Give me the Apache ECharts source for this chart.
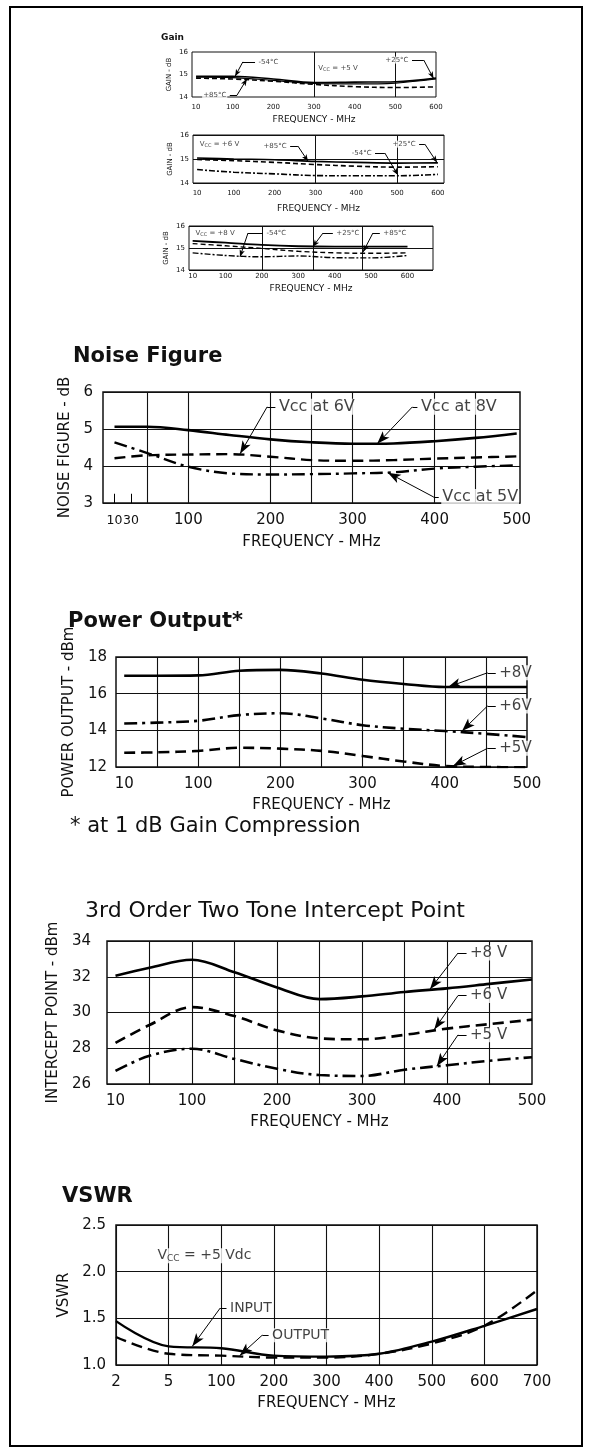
<!DOCTYPE html>
<html><head><meta charset="utf-8">
<script src="https://cdn.jsdelivr.net/npm/echarts@6/dist/echarts.min.js"></script>
<style>html,body{margin:0;padding:0;background:#fff}#c{width:589px;height:1452px}</style>
</head><body><div id="c"></div>
<script>
// ---------------- DATA ----------------
// Gain (three supply voltages)
const gainFreq = [10, 100, 200, 300, 400, 500, 600];
const gainTickLabels = [10, 100, 200, 300, 400, 500, 600];
const gain5V_m54 = [14.92, 14.92, 14.80, 14.64, 14.66, 14.68, 14.84];
const gain5V_p25 = [14.88, 14.86, 14.74, 14.60, 14.58, 14.62, 14.80];
const gain5V_p85 = [14.84, 14.80, 14.70, 14.56, 14.46, 14.42, 14.45];
const gain6V_p25 = [15.04, 15.00, 14.97, 14.90, 14.86, 14.83, 14.84];
const gain6V_m54 = [14.98, 14.93, 14.86, 14.77, 14.70, 14.66, 14.68];
const gain6V_p85 = [14.56, 14.45, 14.38, 14.31, 14.30, 14.30, 14.36];
const gain8V_m54 = [15.32, 15.24, 15.14, 15.08, 15.06, 15.06, 15.06];
const gain8V_p25 = [15.20, 15.10, 14.98, 14.85, 14.78, 14.76, 14.78];
const gain8V_p85 = [14.78, 14.66, 14.60, 14.64, 14.56, 14.55, 14.66];

// Noise figure
const noiseFreq = [10, 50, 100, 150, 200, 250, 300, 350, 400, 450, 500];
const noiseTickLabels = [10, 30, 100, 200, 300, 400, 500];
const noiseVcc8 = [5.06, 5.06, 4.97, 4.84, 4.72, 4.64, 4.60, 4.61, 4.67, 4.76, 4.88];
const noiseVcc6 = [4.21, 4.29, 4.31, 4.32, 4.25, 4.16, 4.14, 4.16, 4.20, 4.23, 4.26];
const noiseVcc5 = [4.64, 4.35, 3.98, 3.80, 3.77, 3.78, 3.80, 3.83, 3.93, 3.98, 4.02];

// Power output (1 dB compression)
const powerFreq = [10, 50, 100, 150, 200, 250, 300, 350, 400, 450, 500];
const powerTickLabels = [10, 100, 200, 300, 400, 500];
const power8V = [16.98, 16.98, 17.00, 17.25, 17.30, 17.10, 16.76, 16.53, 16.36, 16.36, 16.36];
const power6V = [14.37, 14.42, 14.52, 14.83, 14.93, 14.65, 14.28, 14.09, 13.96, 13.81, 13.63];
const power5V = [12.78, 12.80, 12.88, 13.05, 13.00, 12.88, 12.60, 12.30, 12.05, 12.00, 11.98];

// 3rd order intercept point
const ipFreq = [10, 50, 100, 150, 200, 250, 300, 350, 400, 450, 500];
const ipTickLabels = [10, 100, 200, 300, 400, 500];
const ip8V = [32.05, 32.50, 32.95, 32.25, 31.40, 30.75, 30.90, 31.15, 31.35, 31.60, 31.85];
const ip6V = [28.30, 29.30, 30.30, 29.80, 29.00, 28.55, 28.50, 28.75, 29.10, 29.35, 29.60];
const ip5V = [26.73, 27.58, 27.97, 27.40, 26.85, 26.50, 26.45, 26.80, 27.05, 27.30, 27.50];

// VSWR (frequency axis labels as printed)
const vswrFreqLabels = ['2', '5', '100', '200', '300', '400', '500', '600', '700'];
const vswrInput  = [1.47, 1.20, 1.18, 1.10, 1.09, 1.12, 1.25, 1.42, 1.60];
const vswrOutput = [1.30, 1.12, 1.10, 1.08, 1.08, 1.12, 1.23, 1.42, 1.80];

// ---------------- ANNOTATIONS (data units) ----------------
const VCC = (v) => '{n|V}{s|CC}{n| = ' + v + '}';
const annGain1 = [
  {t: '-54°C', x: 155, y: 15.56, side: 'L', ex: 125, ey: 15.56, px: 106, py: 14.92},
  {t: VCC('+5 V'), x: 302, y: 15.29, side: 'L'},
  {t: '+25°C', x: 541, y: 15.64, side: 'R', ex: 570, ey: 15.64, px: 594, py: 14.82},
  {t: '+85°C', x: 93, y: 14.09, side: 'R', ex: 111, ey: 14.09, px: 135, py: 14.80}
];
const annGain2 = [
  {t: VCC('+6 V'), x: 8, y: 15.62, side: 'L'},
  {t: '+85°C', x: 238, y: 15.54, side: 'R', ex: 257, ey: 15.54, px: 282, py: 14.90},
  {t: '-54°C', x: 446, y: 15.25, side: 'R', ex: 470, ey: 15.25, px: 502, py: 14.33},
  {t: '+25°C', x: 554, y: 15.62, side: 'R', ex: 568, ey: 15.62, px: 598, py: 14.85}
];
const annGain3 = [
  {t: VCC('+8 V'), x: 8, y: 15.68, side: 'L'},
  {t: '-54°C', x: 203, y: 15.68, side: 'L', ex: 162, ey: 15.68, px: 140, py: 14.60},
  {t: '+25°C', x: 395, y: 15.68, side: 'L', ex: 368, ey: 15.68, px: 340, py: 15.06},
  {t: '+85°C', x: 524, y: 15.68, side: 'L', ex: 505, ey: 15.68, px: 478, py: 14.82}
];
const annNoise = [
  {t: 'Vcc at 6V', x: 206, y: 5.6, side: 'L', ex: 196, ey: 5.6, px: 163, py: 4.33},
  {t: 'Vcc at 8V', x: 379, y: 5.6, side: 'L', ex: 373, ey: 5.6, px: 330, py: 4.60},
  {t: 'Vcc at 5V', x: 405, y: 3.16, side: 'L', ex: 399, ey: 3.16, px: 343, py: 3.82}
];
const annPower = [
  {t: '+8V', x: 462, y: 17.14, side: 'L', ex: 452, ey: 17.14, px: 404, py: 16.36},
  {t: '+6V', x: 462, y: 15.33, side: 'L', ex: 452, ey: 15.33, px: 421, py: 13.97},
  {t: '+5V', x: 462, y: 13.02, side: 'L', ex: 452, ey: 13.02, px: 410, py: 12.06}
];
const annIp = [
  {t: '+8 V', x: 423, y: 33.33, side: 'L', ex: 413, ey: 33.33, px: 380, py: 31.30},
  {t: '+6 V', x: 423, y: 30.95, side: 'L', ex: 413, ey: 30.95, px: 385, py: 29.05},
  {t: '+5 V', x: 423, y: 28.75, side: 'L', ex: 413, ey: 28.75, px: 388, py: 27.00}
];
const annVswr = [
  {t: '{n|V}{s|CC}{n| = +5 Vdc}', x: 0.72, y: 2.17, side: 'L'},
  {t: 'INPUT', x: 2.1, y: 1.61, side: 'L', ex: 1.98, ey: 1.61, px: 1.45, py: 1.20},
  {t: 'OUTPUT', x: 2.9, y: 1.32, side: 'L', ex: 2.78, ey: 1.32, px: 2.35, py: 1.10}
];

// ---------------- BUILD ----------------
const FONT = '"DejaVu Sans", "Liberation Sans", sans-serif';
const INK = '#111';

const gridBoxes = [
  [192, 52, 244, 45, 1],
  [193, 135, 251, 48, 1],
  [189, 226, 244, 44, 1],
  [103, 392, 417, 111, 1.5],
  [116, 657, 411, 110, 1.5],
  [107, 941, 425, 143, 1.5],
  [116, 1225, 421, 140, 1.5]
];
const grid = gridBoxes.map(b => ({
  left: b[0], top: b[1], width: b[2], height: b[3], show: true,
  borderColor: INK, borderWidth: b[4], backgroundColor: 'rgba(0,0,0,0)',
  containLabel: false, outerBoundsMode: 'none'
}));

function xVal(gi, min, max, labelVals, gridVals, o) {
  return {
    gridIndex: gi, type: 'value', min: min, max: max,
    axisLine: {show: false},
    axisTick: {show: false, customValues: gridVals},
    splitLine: {show: true, lineStyle: {color: INK, width: o.gw}},
    axisLabel: {customValues: labelVals, fontSize: o.fs, margin: o.margin, color: INK, fontFamily: FONT,
      hideOverlap: false, showMinLabel: true, showMaxLabel: true,
      formatter: o.fmt || (v => String(v)), rich: o.rich},
    name: 'FREQUENCY - MHz', nameLocation: 'middle', nameGap: o.nameGap,
    nameTextStyle: {fontSize: o.nfs, color: INK, fontFamily: FONT}
  };
}
function yVal(gi, min, max, interval, name, o) {
  return {
    gridIndex: gi, type: 'value', min: min, max: max, interval: interval,
    axisLine: {show: false}, axisTick: {show: false},
    splitLine: {show: o.split, lineStyle: {color: INK, width: o.gw}},
    axisLabel: {fontSize: o.fs, margin: o.margin, color: INK, fontFamily: FONT,
      formatter: o.fmt || (v => String(v))},
    name: name, nameLocation: 'middle', nameRotate: 90, nameGap: o.nameGap,
    nameTextStyle: {fontSize: o.nfs, color: INK, fontFamily: FONT}
  };
}

const big = {fs: 15, gw: 1.1, nfs: 15};
const small = {fs: 7, gw: 1, nfs: 9};
// the 10 and 30 MHz labels of the noise chart are printed tight together ("1030")
const noiseLabelFmt = v => (v < 100 ? '{t|' + v + '}' : String(v));
const noiseRich = {t: {fontSize: 12.5, color: INK, fontFamily: FONT, padding: [1, 0, 0, 0]}};

const xAxis = [
  xVal(0, 0, 600, gainTickLabels, [300, 500], Object.assign({}, small, {margin: 7, nameGap: 18})),
  xVal(1, 0, 615, gainTickLabels, [300, 500], Object.assign({}, small, {margin: 7, nameGap: 21})),
  xVal(2, 0, 670, gainTickLabels, [200, 340, 475], Object.assign({}, small, {margin: 3, nameGap: 14})),
  xVal(3, -4, 504, noiseTickLabels, [50, 100, 200, 250, 300, 400, 450],
       Object.assign({}, big, {margin: 10, nameGap: 32, fmt: noiseLabelFmt, rich: noiseRich})),
  xVal(4, 0, 500, powerTickLabels, [50, 100, 150, 200, 250, 300, 350, 400, 450], Object.assign({}, big, {margin: 10, nameGap: 31})),
  xVal(5, 0, 500, ipTickLabels, [50, 100, 150, 200, 250, 300, 350, 400, 450], Object.assign({}, big, {margin: 10, nameGap: 31})),
  {
    gridIndex: 6, type: 'category', data: vswrFreqLabels, boundaryGap: false,
    axisLine: {show: false}, axisTick: {show: false},
    splitLine: {show: true, interval: 0, lineStyle: {color: INK, width: 1.1}},
    axisLabel: {interval: 0, fontSize: 15, margin: 10, color: INK, fontFamily: FONT},
    name: 'FREQUENCY - MHz', nameLocation: 'middle', nameGap: 31,
    nameTextStyle: {fontSize: 15, color: INK, fontFamily: FONT}
  },
  {gridIndex: 6, type: 'value', min: 0, max: 8, show: false}
];

const yAxis = [
  yVal(0, 14, 16, 1, 'GAIN - dB', Object.assign({}, small, {split: false, margin: 4, nameGap: 19, nfs: 7})),
  yVal(1, 14, 16, 1, 'GAIN - dB', Object.assign({}, small, {split: true, margin: 4, nameGap: 19, nfs: 7})),
  yVal(2, 14, 16, 1, 'GAIN - dB', Object.assign({}, small, {split: true, margin: 4, nameGap: 19, nfs: 7})),
  yVal(3, 3, 6, 1, 'NOISE FIGURE - dB', Object.assign({}, big, {split: true, margin: 10, nameGap: 21})),
  yVal(4, 12, 18, 2, 'POWER OUTPUT - dBm', Object.assign({}, big, {split: true, margin: 9, nameGap: 33})),
  yVal(5, 26, 34, 2, 'INTERCEPT POINT - dBm', Object.assign({}, big, {split: true, margin: 16, nameGap: 42})),
  yVal(6, 1, 2.5, 0.5, 'VSWR', Object.assign({}, big, {split: true, margin: 10, nameGap: 38, fmt: v => v.toFixed(1)}))
];

const DASH_BIG = [11, 6];
const DASHDOT_BIG = [13, 5, 3, 5];
const DASH_SMALL = [5, 3];
const DASHDOT_SMALL = [6, 2, 2, 2];

function curve(ax, freq, vals, name, width, type) {
  return {
    type: 'line', name: name, xAxisIndex: ax, yAxisIndex: ax,
    data: freq.map((f, i) => [f, vals[i]]),
    smooth: 0.35, showSymbol: false, symbol: 'none',
    lineStyle: {color: '#000', width: width, type: type}, z: 3
  };
}

function annSeries(xi, yi, anns, fs, arrow) {
  const segs = [];
  anns.forEach(a => {
    if (a.px === undefined) return;
    segs.push([{coord: [a.x, a.y], symbol: 'none'}, {coord: [a.ex, a.ey], symbol: 'none'}]);
    segs.push([{coord: [a.ex, a.ey], symbol: 'none'},
               {coord: [a.px, a.py], symbol: 'arrow', symbolSize: arrow}]);
  });
  return {
    type: 'scatter', xAxisIndex: xi, yAxisIndex: yi, symbolSize: 1,
    itemStyle: {color: 'rgba(0,0,0,0)'}, silent: true, z: 5,
    data: anns.map(a => ({
      value: [a.x, a.y],
      label: {show: true, position: a.side === 'L' ? 'right' : 'left', distance: 2,
        formatter: a.t, fontSize: fs, color: INK, fontFamily: FONT,
        backgroundColor: '#fff', padding: [0, 1],
        rich: {n: {fontSize: fs, color: INK, fontFamily: FONT},
               s: {fontSize: Math.round(fs * 0.65), color: INK, fontFamily: FONT, padding: [Math.round(fs * 0.45), 0, 0, 0]}}}
    })),
    markLine: {silent: true, animation: false, precision: 4,
      lineStyle: {color: '#000', width: 1, type: 'solid'},
      label: {show: false}, emphasis: {disabled: true}, data: segs}
  };
}

const series = [
  curve(0, gainFreq, gain5V_m54, '-54°C', 1.6, 'solid'),
  curve(0, gainFreq, gain5V_p25, '+25°C', 1.2, 'solid'),
  curve(0, gainFreq, gain5V_p85, '+85°C', 1.6, DASH_SMALL),
  curve(1, gainFreq, gain6V_p25, '+25°C', 1.6, 'solid'),
  curve(1, gainFreq, gain6V_m54, '-54°C', 1.6, DASH_SMALL),
  curve(1, gainFreq, gain6V_p85, '+85°C', 1.6, DASHDOT_SMALL),
  curve(2, gainFreq, gain8V_m54, '-54°C', 1.8, 'solid'),
  curve(2, gainFreq, gain8V_p25, '+25°C', 1.4, DASH_SMALL),
  curve(2, gainFreq, gain8V_p85, '+85°C', 1.4, DASHDOT_SMALL),
  curve(3, noiseFreq, noiseVcc8, 'Vcc at 8V', 2.6, 'solid'),
  curve(3, noiseFreq, noiseVcc6, 'Vcc at 6V', 2.4, DASH_BIG),
  curve(3, noiseFreq, noiseVcc5, 'Vcc at 5V', 2.4, DASHDOT_BIG),
  curve(4, powerFreq, power8V, '+8V', 2.6, 'solid'),
  curve(4, powerFreq, power6V, '+6V', 2.6, DASHDOT_BIG),
  curve(4, powerFreq, power5V, '+5V', 2.6, DASH_BIG),
  curve(5, ipFreq, ip8V, '+8 V', 2.6, 'solid'),
  curve(5, ipFreq, ip6V, '+6 V', 2.6, DASH_BIG),
  curve(5, ipFreq, ip5V, '+5 V', 2.6, DASHDOT_BIG),
  {type: 'line', name: 'INPUT', xAxisIndex: 6, yAxisIndex: 6, data: vswrInput, smooth: 0.35,
   showSymbol: false, symbol: 'none', lineStyle: {color: '#000', width: 2.4, type: 'solid'}, z: 3},
  {type: 'line', name: 'OUTPUT', xAxisIndex: 6, yAxisIndex: 6, data: vswrOutput, smooth: 0.35,
   showSymbol: false, symbol: 'none', lineStyle: {color: '#000', width: 2.4, type: DASH_BIG}, z: 3},
  annSeries(0, 0, annGain1, 7, [4, 7]),
  annSeries(1, 1, annGain2, 7, [4, 7]),
  annSeries(2, 2, annGain3, 7, [4, 7]),
  annSeries(3, 3, annNoise, 16, [7, 13]),
  annSeries(4, 4, annPower, 15, [7, 13]),
  annSeries(5, 5, annIp, 15, [7, 13]),
  annSeries(7, 6, annVswr, 14, [7, 13])
];

// small tick marks at 10 and 30 MHz on the noise chart
series.push({
  type: 'line', xAxisIndex: 3, yAxisIndex: 3, data: [], silent: true,
  markLine: {silent: true, animation: false, symbol: 'none', label: {show: false},
    lineStyle: {color: '#000', width: 1, type: 'solid'},
    data: noiseTickLabels.slice(0, 2).map(f => [{coord: [f, 3]}, {coord: [f, 3.25]}])}
});

const titleStyle = (size, bold) => ({fontSize: size, fontWeight: bold ? 'bold' : 'normal', color: INK, fontFamily: FONT});
const title = [
  {text: 'Gain', left: 161, top: 33, padding: 0, textStyle: titleStyle(9, true)},
  {text: 'Noise Figure', left: 73, top: 346, padding: 0, textStyle: titleStyle(21, true)},
  {text: 'Power Output*', left: 68, top: 611, padding: 0, textStyle: titleStyle(21, true)},
  {text: '* at 1 dB Gain Compression', left: 70, top: 816, padding: 0, textStyle: titleStyle(21, false)},
  {text: '3rd Order Two Tone Intercept Point', left: 85, top: 900, padding: 0, textStyle: titleStyle(22, false)},
  {text: 'VSWR', left: 62, top: 1186, padding: 0, textStyle: titleStyle(21, true)}
];

const chart = echarts.init(document.getElementById('c'), null, {renderer: 'canvas'});
chart.setOption({
  animation: false,
  backgroundColor: '#fff',
  title: title,
  grid: grid,
  xAxis: xAxis,
  yAxis: yAxis,
  series: series,
  graphic: [{type: 'rect', shape: {x: 10, y: 7, width: 572, height: 1439},
    style: {fill: 'none', stroke: '#000', lineWidth: 2}, silent: true, z: 100}]
});
</script></body></html>
